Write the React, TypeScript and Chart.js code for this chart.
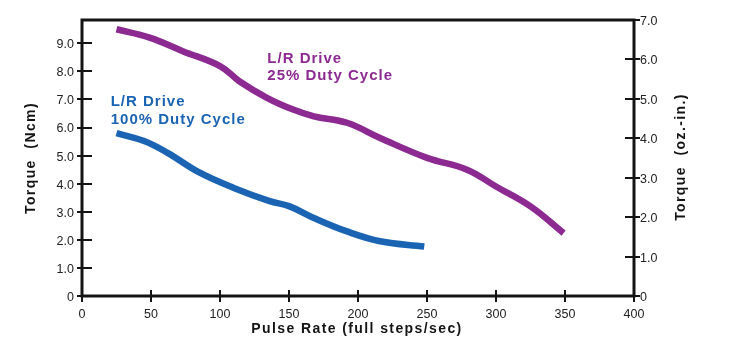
import React, { useEffect, useRef } from 'react';
import { Chart, registerables } from 'chart.js';

Chart.register(...registerables);

// Pulse rate (full steps/sec) and torque (Ncm)
const blueRate = [25, 45, 62, 85, 110, 136, 150, 168, 192, 216, 248];
const blueTorque = [5.8, 5.52, 5.1, 4.4, 3.85, 3.38, 3.2, 2.78, 2.3, 1.95, 1.76];
const purpleRate = [25, 49, 73, 100, 114, 134, 153, 168, 192, 216, 250, 279, 300, 325, 349];
const purpleTorque = [9.5, 9.2, 8.72, 8.19, 7.65, 7.06, 6.64, 6.4, 6.17, 5.63, 4.92, 4.5, 3.9, 3.19, 2.24];

const rateTicks = [0, 50, 100, 150, 200, 250, 300, 350, 400];
const ncmTicks = [0, 1, 2, 3, 4, 5, 6, 7, 8, 9];
const ozTicks = [0, 1, 2, 3, 4, 5, 6, 7];
const NCM_MAX = 9.83;
const OZ_MAX = 7;

const blueLabel = ['L/R Drive', '100% Duty Cycle'];
const purpleLabel = ['L/R Drive', '25% Duty Cycle'];
const blueLabelAt = { x: 20.8, y: [6.76, 6.14] };
const purpleLabelAt = { x: 134.3, y: [8.31, 7.69] };

const BLUE = '#1b64b3';
const PURPLE = '#8c2a92';
const INK = '#141414';
const FONT = '"Liberation Sans", Arial, Helvetica, sans-serif';

const fmt = (v: number) => (v === 0 ? '0' : v.toFixed(1));

const framePlugin = {
  id: 'frameAndText',
  afterDatasetsDraw(chart: any) {
    const { ctx, chartArea: a, scales } = chart;
    ctx.save();
    ctx.strokeStyle = INK;
    ctx.lineWidth = 3;
    ctx.strokeRect(a.left, a.top, a.right - a.left, a.bottom - a.top);
    ctx.lineWidth = 2;
    ctx.beginPath();
    ncmTicks.forEach((v) => {
      const y = Math.round(scales.y.getPixelForValue(v));
      ctx.moveTo(a.left - 5, y);
      ctx.lineTo(a.left + 10, y);
    });
    ozTicks.forEach((v) => {
      const y = Math.round(scales.y1.getPixelForValue(v));
      ctx.moveTo(a.right - 9, y);
      ctx.lineTo(a.right + 6, y);
    });
    rateTicks.forEach((v) => {
      const x = Math.round(scales.x.getPixelForValue(v));
      ctx.moveTo(x, a.bottom - 6);
      ctx.lineTo(x, a.bottom + 6);
    });
    ctx.stroke();

    // series labels
    const drawLabel = (lines: string[], at: { x: number; y: number[] }, color: string) => {
      ctx.fillStyle = color;
      ctx.font = `bold 15px ${FONT}`;
      (ctx as any).letterSpacing = '1px';
      ctx.textAlign = 'left';
      ctx.textBaseline = 'alphabetic';
      lines.forEach((t, i) => {
        ctx.fillText(t, scales.x.getPixelForValue(at.x), scales.y.getPixelForValue(at.y[i]));
      });
    };
    drawLabel(blueLabel, blueLabelAt, BLUE);
    drawLabel(purpleLabel, purpleLabelAt, PURPLE);

    // axis titles
    ctx.fillStyle = INK;
    ctx.font = `bold 14px ${FONT}`;
    (ctx as any).letterSpacing = '1.4px';
    ctx.textAlign = 'center';
    ctx.textBaseline = 'middle';
    const cy = (a.top + a.bottom) / 2;
    ctx.save();
    ctx.translate(a.left - 51, cy);
    ctx.rotate(-Math.PI / 2);
    ctx.fillText('Torque  (Ncm)', 0, 0);
    ctx.restore();
    ctx.save();
    ctx.translate(a.right + 47, cy - 1);
    ctx.rotate(-Math.PI / 2);
    ctx.fillText('Torque  (oz.-in.)', 0, 0);
    ctx.restore();
    ctx.textBaseline = 'alphabetic';
    ctx.fillText('Pulse Rate (full steps/sec)', (a.left + a.right) / 2 - 1, a.bottom + 37);
    ctx.restore();
  },
};

export default function App() {
  const ref = useRef<HTMLCanvasElement | null>(null);
  useEffect(() => {
    if (!ref.current) return;
    const tickFont = { family: FONT, size: 12.5 };
    const chart = new Chart(ref.current, {
      type: 'line',
      data: {
        datasets: [
          {
            label: 'L/R Drive 100% Duty Cycle',
            data: blueRate.map((x, i) => ({ x, y: blueTorque[i] })),
            borderColor: BLUE,
            borderWidth: 6.5,
            borderCapStyle: 'butt',
            tension: 0.4,
            pointRadius: 0,
            yAxisID: 'y',
          },
          {
            label: 'L/R Drive 25% Duty Cycle',
            data: purpleRate.map((x, i) => ({ x, y: purpleTorque[i] })),
            borderColor: PURPLE,
            borderWidth: 6.5,
            borderCapStyle: 'butt',
            tension: 0.4,
            pointRadius: 0,
            yAxisID: 'y',
          },
        ],
      },
      options: {
        animation: false,
        responsive: false,
        layout: { padding: { top: 20, left: 0, right: 0, bottom: 0 } },
        plugins: { legend: { display: false }, tooltip: { enabled: false } },
        scales: {
          x: {
            type: 'linear',
            min: 0,
            max: 400,
            afterBuildTicks: (s: any) => { s.ticks = rateTicks.map((value) => ({ value })); },
            afterFit: (s: any) => { s.height = 52; },
            grid: { display: false, drawTicks: false },
            border: { display: false },
            ticks: { font: tickFont, color: '#222', padding: 11, callback: (v: any) => String(v) },
          },
          y: {
            type: 'linear',
            position: 'left',
            min: 0,
            max: NCM_MAX,
            afterBuildTicks: (s: any) => { s.ticks = ncmTicks.map((value) => ({ value })); },
            afterFit: (s: any) => { s.width = 82; },
            grid: { display: false, drawTicks: false },
            border: { display: false },
            ticks: { font: tickFont, color: '#222', padding: 8, labelOffset: 1.5, callback: (v: any) => fmt(Number(v)) },
          },
          y1: {
            type: 'linear',
            position: 'right',
            min: 0,
            max: OZ_MAX,
            afterBuildTicks: (s: any) => { s.ticks = ozTicks.map((value) => ({ value })); },
            afterFit: (s: any) => { s.width = 95; },
            grid: { display: false, drawTicks: false },
            border: { display: false },
            ticks: { font: tickFont, color: '#222', padding: 6, labelOffset: 1.5, callback: (v: any) => fmt(Number(v)) },
          },
        },
      },
      plugins: [framePlugin],
    } as any);
    return () => chart.destroy();
  }, []);

  return (
    <div style={{ position: 'absolute', left: 0, top: 0, width: 729, height: 348, background: '#fff' }}>
      <canvas ref={ref} width={729} height={348} style={{ display: 'block' }} />
    </div>
  );
}
